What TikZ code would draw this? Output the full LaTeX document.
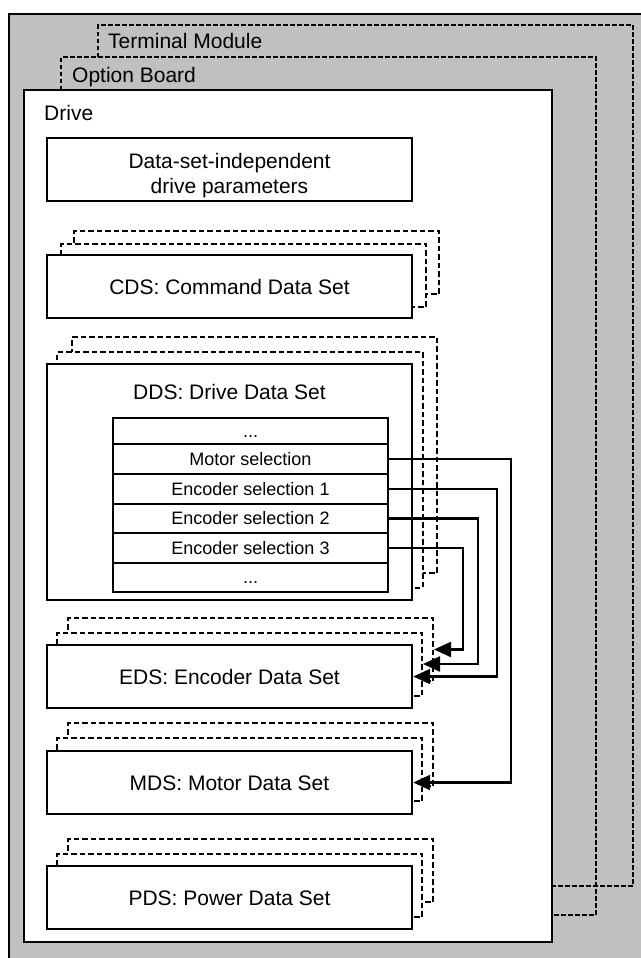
\documentclass[tikz,border=0pt]{standalone}
\usepackage{fontspec}
\setmainfont{Liberation Sans}
\usetikzlibrary{arrows.meta}
\definecolor{bggray}{RGB}{192,192,192}
\newcommand\mybigfont{\fontsize{21bp}{25bp}\selectfont}
\newcommand\mysmallfont{\fontsize{18bp}{21bp}\selectfont}
\begin{document}
\begin{tikzpicture}[x=1bp,y=-1bp,
  framel/.style={line width=2bp, dash pattern=on 4.5bp off 2.5bp},
  shadowbox/.style={draw, fill=white, line width=2bp, dash pattern=on 5.5bp off 3bp, minimum width=365bp, minimum height=63bp, inner sep=0},
  mainbox/.style={draw, fill=white, line width=2.4bp, minimum width=365bp, minimum height=63bp, inner sep=0, font=\mybigfont, text height=15bp, text depth=0bp},
  lbl/.style={anchor=base west, inner sep=0, font=\mybigfont},
  rowbox/.style={draw, line width=2.2bp, minimum width=275bp, inner sep=0, font=\mysmallfont, text height=12.9bp, text depth=0bp},
  conn/.style={line width=2.2bp, -{Triangle[length=17bp,width=15bp]}},
]
\useasboundingbox (0,0) rectangle (641,958);
\clip (0,0) rectangle (641,958);
% background
\draw[line width=2.2bp, fill=bggray] (9,14) rectangle (680,990);
% terminal module and option board frames
\draw[framel] (98,57) -- (98,25) -- (633,25) -- (633,886) -- (552,886);
\draw[framel] (61,90) -- (61,57) -- (596,57) -- (596,915) -- (552,915);
\node[lbl] (tm) at (108,48.3) {Terminal Module};
\node[lbl] (ob) at (72,82.7) {Option Board};
% drive
\draw[line width=2.4bp, fill=white] (24,90) rectangle (552,942);
\node[lbl] (drv) at (44,120.7) {Drive};
% data-set-independent
\node[mainbox] (datab) at (229.5,169.5) {};
\node[inner sep=0, font=\mybigfont, align=center] (datat) at (229.5,175.5) {Data-set-independent\\drive parameters};
% CDS
\node[shadowbox] (cds2) at (256.5,262.5) {};
\node[shadowbox] (cds1) at (243.5,275.5) {};
\node[mainbox] (cds) at (229.5,286.5) {CDS: Command Data Set};
% DDS
\node[shadowbox, minimum height=236bp] (dds2) at (254.5,455) {};
\node[shadowbox, minimum height=236bp] (dds1) at (240,469.5) {};
\node[mainbox, minimum height=236bp] (dds) at (229.5,482) {};
\node[inner sep=0, font=\mybigfont, text height=15bp, text depth=0bp] (ddst) at (229.5,392) {DDS: Drive Data Set};
% table
\node[rowbox, minimum height=26bp] (r1) at (250.5,431) {...};
\node[rowbox, minimum height=30bp] (r2) at (250.5,459) {Motor selection};
\node[rowbox, minimum height=30bp] (r3) at (250.5,489) {Encoder selection 1};
\node[rowbox, minimum height=29bp] (r4) at (250.5,518.5) {Encoder selection 2};
\node[rowbox, minimum height=30bp] (r5) at (250.5,548) {Encoder selection 3};
\node[rowbox, minimum height=29bp] (r6) at (250.5,577.5) {...};
% EDS
\node[shadowbox] (eds2) at (250.5,649.5) {};
\node[shadowbox] (eds1) at (239.5,664) {};
\node[mainbox] (eds) at (229.5,676.5) {EDS: Encoder Data Set};
% MDS
\node[shadowbox] (mds2) at (250.5,754.5) {};
\node[shadowbox] (mds1) at (239.5,769.5) {};
\node[mainbox] (mds) at (229.5,782.5) {MDS: Motor Data Set};
% PDS
\node[shadowbox] (pds2) at (250.5,870.5) {};
\node[shadowbox] (pds1) at (239.5,885.5) {};
\node[mainbox] (pds) at (229.5,897.5) {PDS: Power Data Set};
% connectors
\coordinate (xm) at (511,0);
\coordinate (xa) at (497,0);
\coordinate (xb) at (478,0);
\coordinate (xc) at (463,0);
\draw[conn] (r2.east) -- (r2.east -| xm) |- (mds.east);
\draw[conn] (r3.east) -- (r3.east -| xa) |- (eds.east);
\draw[conn] (r4.east) -- (r4.east -| xb) |- (eds1.east);
\draw[conn] (r5.east) -- (r5.east -| xc) |- (eds2.east);
\end{tikzpicture}
\end{document}
